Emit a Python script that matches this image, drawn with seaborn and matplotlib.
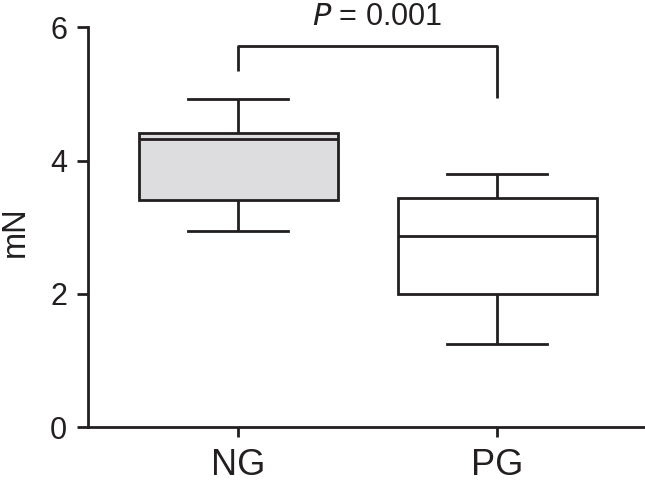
import pandas as pd
import numpy as np
import matplotlib.pyplot as plt
import seaborn as sns

# box summary: min, Q1, median, Q3, max (mN)
groups = ["NG", "PG"]
ng_values = [2.94, 3.41, 4.32, 4.41, 4.92]
pg_values = [1.25, 2.00, 2.87, 3.44, 3.80]
p_text = "= 0.001"

# bracket heights for the significance annotation
bracket_top = 5.72
bracket_left_end = 5.34
bracket_right_end = 4.94

df = pd.DataFrame({
    "group": ["NG"] * len(ng_values) + ["PG"] * len(pg_values),
    "mN": ng_values + pg_values,
})

ink = "#231f20"
plt.rcParams["font.family"] = ["Liberation Sans", "DejaVu Sans"]

fig = plt.figure(figsize=(6.45, 4.84), dpi=100)
ax = fig.add_axes([88 / 645, 1 - 427.3 / 484, 1 - 88 / 645, (427.3 - 27.3) / 484])

sns.boxplot(data=df, x="group", y="mN", hue="group", order=groups,
            palette={"NG": "#dcdde0", "PG": "white"}, legend=False,
            whis=(0, 100), width=0.77, linewidth=2.0, linecolor=ink, ax=ax)

ax.set_xlim(-0.58, 1.57)
ax.set_ylim(0, 6)
ax.set_yticks([0, 2, 4, 6])
ax.set_xlabel("")
ax.set_ylabel("mN", fontsize=23.5, color=ink)
ax.yaxis.set_label_coords(-0.103, 0.49)

for side in ["top", "right"]:
    ax.spines[side].set_visible(False)
for side in ["left", "bottom"]:
    ax.spines[side].set_linewidth(2.0)
    ax.spines[side].set_color(ink)

ax.tick_params(axis="y", length=8, width=2.0, color=ink, labelsize=22, labelcolor=ink, pad=7)
ax.tick_params(axis="x", length=7, width=2.0, color=ink, labelsize=26, labelcolor=ink, pad=8)

# significance bracket
ax.plot([0, 0, 1, 1], [bracket_left_end, bracket_top, bracket_top, bracket_right_end],
        color=ink, lw=2.0, clip_on=False, solid_capstyle="butt")
ax.text(0.537, 6.16, r"$\it{P}$ " + p_text, ha="center", va="center",
        fontsize=22, color=ink, clip_on=False)

fig.savefig("out.png", dpi=100)
